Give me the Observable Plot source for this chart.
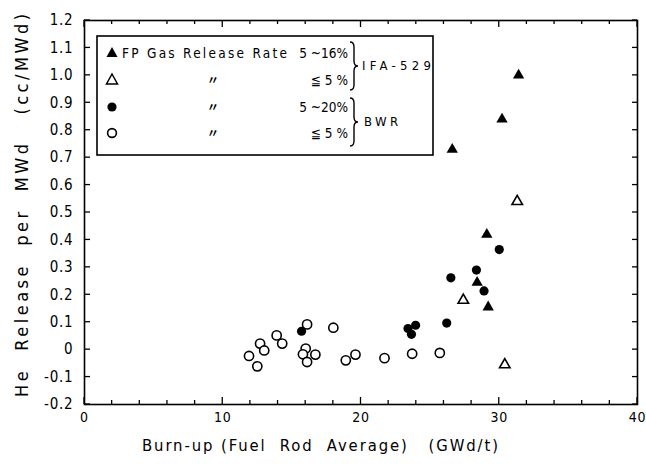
<!DOCTYPE html>
<html><head><meta charset="utf-8">
<script src="https://cdn.jsdelivr.net/npm/d3@7"></script>
<script src="https://cdn.jsdelivr.net/npm/@observablehq/plot@0.6"></script>
<style>
body{margin:0;background:#fff;}
#wrap{position:relative;width:646px;height:464px;background:#fff;}
#wrap svg{position:absolute;left:0;top:0;}
#wrap svg text{letter-spacing:0.8px;}
#wrap svg text.fit{letter-spacing:0;}
</style></head><body><div id="wrap"></div>
<script>
// IFA-529, FP gas release rate 5~16% (filled triangles)
const ifaHighX = [31.4, 30.2, 26.6, 29.1, 28.4, 29.2];
const ifaHighY = [1.0, 0.84, 0.73, 0.42, 0.245, 0.155];
// IFA-529, <= 5% (open triangles)
const ifaLowX = [31.3, 27.4, 30.4];
const ifaLowY = [0.54, 0.18, -0.055];
// BWR, 5~20% (filled circles)
const bwrHighX = [30.0, 28.35, 26.5, 28.9, 26.2, 23.4, 23.95, 23.65, 15.7];
const bwrHighY = [0.365, 0.29, 0.262, 0.214, 0.097, 0.077, 0.089, 0.056, 0.067];
// BWR, <= 5% (open circles)
const bwrLowX = [11.9, 12.5, 12.7, 13.0, 13.9, 14.3, 16.1, 18.0, 16.0, 15.8, 16.7, 16.1, 18.9, 19.6, 21.7, 23.7, 25.7];
const bwrLowY = [-0.023, -0.061, 0.022, -0.003, 0.052, 0.022, 0.092, 0.080, 0.004, -0.017, -0.018, -0.045, -0.039, -0.018, -0.031, -0.015, -0.012];

const xMajor = [0, 10, 20, 30, 40];
const xMinor = [2, 4, 6, 8, 12, 14, 16, 18, 22, 24, 26, 28, 32, 34, 36, 38];
const yTicks = [-0.2, -0.1, 0, 0.1, 0.2, 0.3, 0.4, 0.5, 0.6, 0.7, 0.8, 0.9, 1.0, 1.1, 1.2];
const yTickLabels = ["-0.2", "-0.1", "0", "0.1", "0.2", "0.3", "0.4", "0.5", "0.6", "0.7", "0.8", "0.9", "1.0", "1.1", "1.2"];

const xTitle = "Burn-up (Fuel  Rod  Average)   (GWd/t)";
const yTitle = "He  Release  per  MWd   (cc/MWd)";
const legendLabel = "FP Gas Release Rate";
const legendRanges = ["5 ~16%", "≦ 5 %", "5 ~20%", "≦ 5 %"];
const groupNames = ["IFA-529", "BWR"];

const FONT = '"Liberation Sans Narrow","DejaVu Sans Condensed","Liberation Sans","DejaVu Sans",sans-serif';

const W = 646, H = 464, ML = 84, MR = 9, MT = 20, MB = 60;
const X0 = 0, X1 = 40, Y0 = -0.2, Y1 = 1.2;

const pts = (xs, ys) => xs.map((x, i) => ({x, y: ys[i]}));
const yFmt = d => yTickLabels[yTicks.findIndex(t => Math.abs(t - d) < 1e-9)] ?? "";

const chart = Plot.plot({
  width: W, height: H,
  marginLeft: ML, marginRight: MR, marginTop: MT, marginBottom: MB,
  x: {domain: [X0, X1]},
  y: {domain: [Y0, Y1]},
  style: {fontFamily: FONT, fontSize: "15px", color: "#000", background: "#fff"},
  marks: [
    Plot.frame({strokeWidth: 1.6}),
    // tick labels
    Plot.axisX(xMajor, {anchor: "bottom", tickSize: 0, tickPadding: 8, fontSize: 14, tickFormat: d => String(d), label: null}),
    Plot.axisY(yTicks, {anchor: "left", tickSize: 0, tickPadding: 11, tickFormat: yFmt, label: null}),
    // data
    Plot.dot(pts(bwrLowX, bwrLowY), {x: "x", y: "y", r: 4.6, stroke: "#000", strokeWidth: 1.6, fill: "#fff"}),
    Plot.dot(pts(bwrHighX, bwrHighY), {x: "x", y: "y", r: 4.6, fill: "#000"}),
    Plot.dot(pts(ifaLowX, ifaLowY), {x: "x", y: "y", r: 3.9, symbol: "triangle", stroke: "#000", strokeWidth: 1.6, fill: "#fff"}),
    Plot.dot(pts(ifaHighX, ifaHighY), {x: "x", y: "y", r: 4.2, symbol: "triangle", fill: "#000"})
  ]
});
document.getElementById("wrap").appendChild(chart);

// Position functions: the chart's own scales, with a d3 fallback using the same domain/range
let px, py;
try {
  const sx = chart.scale("x"), sy = chart.scale("y");
  px = v => sx.apply(v); py = v => sy.apply(v);
  if (!isFinite(px(10)) || !isFinite(py(0))) throw new Error("scale");
} catch (e) {
  px = d3.scaleLinear([X0, X1], [ML, W - MR]);
  py = d3.scaleLinear([Y0, Y1], [H - MB, MT]);
}

// Inward tick marks on all four sides
const tickLines = [];
const ln = (x1, y1, x2, y2) => tickLines.push(`<line x1="${x1}" y1="${y1}" x2="${x2}" y2="${y2}" stroke="#000" stroke-width="1.3"/>`);
yTicks.forEach(v => {
  const y = py(v);
  ln(px(X0), y, px(X0) + 6, y);
  ln(px(X1), y, px(X1) - 5, y);
});
xMinor.forEach(v => {
  const x = px(v);
  ln(x, py(Y0), x, py(Y0) - 4);
  ln(x, py(Y1), x, py(Y1) + 4);
});
xMajor.forEach(v => {
  const x = px(v);
  ln(x, py(Y0), x, py(Y0) - 7);
  ln(x, py(Y1), x, py(Y1) + 7);
});

// Legend and axis titles (overlay)
const ns = "http://www.w3.org/2000/svg";
const ov = document.createElementNS(ns, "svg");
ov.setAttribute("width", W); ov.setAttribute("height", H);
ov.style.pointerEvents = "none";
ov.style.fontFamily = FONT;
const rows = [53, 80, 107, 133];
const tri = (cx, cy) => `M${cx},${cy-6} L${cx+5.5},${cy+4} L${cx-5.5},${cy+4} Z`;
const brace = (x, y0, y1) => {
  const m = (y0 + y1) / 2;
  return `M${x},${y0} q4,0 4,5 V${m-5} q0,5 4,5 q-4,0 -4,5 V${y1-5} q0,5 -4,5`;
};
ov.innerHTML = `
  ${tickLines.join("")}
  <rect x="97" y="36" width="336" height="119" fill="#fff" stroke="#000" stroke-width="1.6"/>
  <path d="${tri(112, rows[0])}" fill="#000"/>
  <path d="${tri(112, rows[1])}" fill="#fff" stroke="#000" stroke-width="1.5"/>
  <circle cx="112" cy="${rows[2]}" r="4.6" fill="#000"/>
  <circle cx="112" cy="${rows[3]}" r="4.4" fill="#fff" stroke="#000" stroke-width="1.6"/>
  <text class="fit" x="122" y="${rows[0]+5}" font-size="13.5" textLength="165" lengthAdjust="spacing">${legendLabel}</text>
  ${[1,2,3].map(i => `<text class="fit" x="213" y="${rows[i]+5}" font-size="12" font-weight="bold" text-anchor="middle" font-family="Noto Sans CJK JP">〃</text>`).join("")}
  ${legendRanges.map((t, i) => `<text class="fit" x="348" y="${rows[i]+5}" font-size="13.5" text-anchor="end" style="white-space:pre">${t}</text>`).join("")}
  <path d="${brace(350, 42, 90)}" fill="none" stroke="#000" stroke-width="1.4"/>
  <path d="${brace(350, 98, 146)}" fill="none" stroke="#000" stroke-width="1.4"/>
  <text class="fit" x="362" y="70" font-size="13" textLength="69" lengthAdjust="spacing">${groupNames[0]}</text>
  <text class="fit" x="364" y="126" font-size="13" textLength="34" lengthAdjust="spacing">${groupNames[1]}</text>
  <text class="fit" x="142" y="451" font-size="16.5" textLength="356" lengthAdjust="spacing" style="white-space:pre">${xTitle}</text>
  <text class="fit" transform="translate(28,397) rotate(-90)" font-size="18" textLength="383" lengthAdjust="spacing" style="white-space:pre">${yTitle}</text>
`;
document.getElementById("wrap").appendChild(ov);
</script>
</body></html>
